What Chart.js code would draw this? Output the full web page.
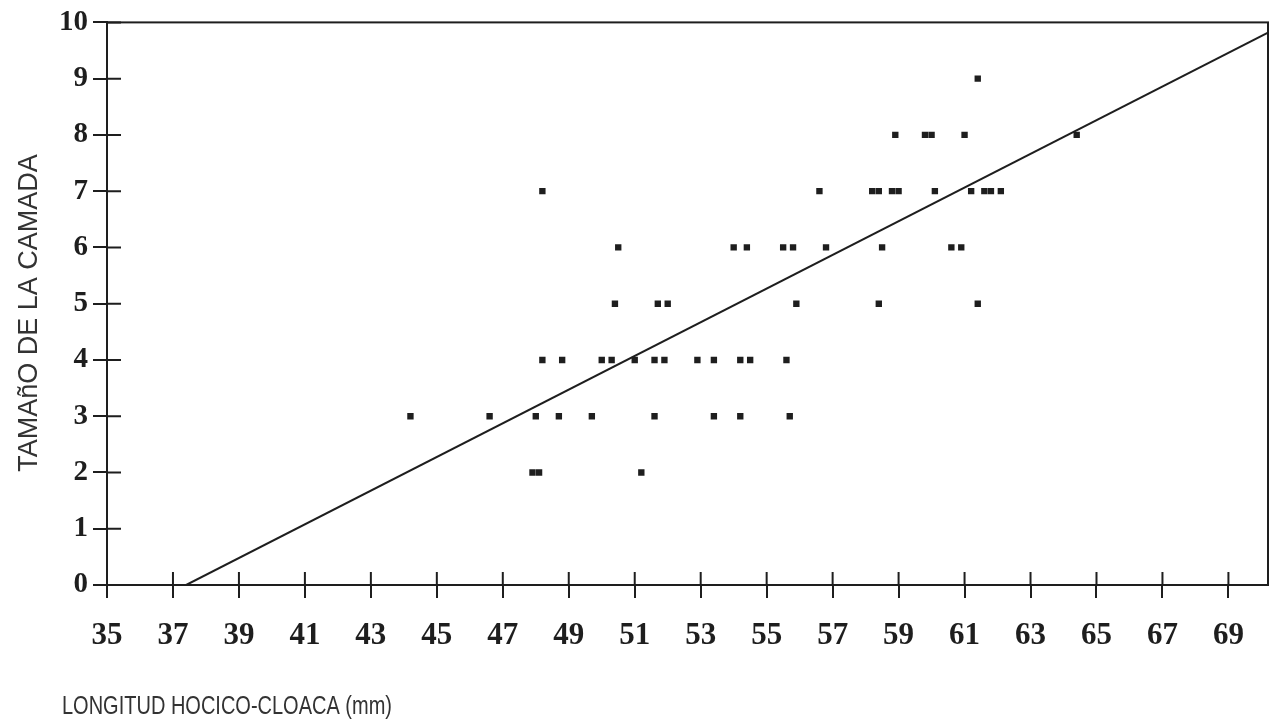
<!DOCTYPE html>
<html>
<head>
<meta charset="utf-8">
<script src="https://cdn.jsdelivr.net/npm/chart.js@4"></script>
<style>
  body { margin: 0; background: #fff; }
  canvas { display: block; }
</style>
</head>
<body>
<canvas id="chart" width="1274" height="727"></canvas>
<script>
const ink = '#1e1e1e';

// longitud hocico-cloaca (mm) y tamaño de la camada
const svl = [
  47.9, 48.1, 51.2,
  44.2, 46.6, 48.0, 48.7, 49.7, 51.6, 53.4, 54.2, 55.7,
  48.2, 48.8, 50.0, 50.3, 51.0, 51.6, 51.9, 52.9, 53.4, 54.2, 54.5, 55.6,
  50.4, 51.7, 52.0, 55.9, 58.4, 61.4,
  50.5, 54.0, 54.4, 55.5, 55.8, 56.8, 58.5, 60.6, 60.9,
  48.2, 56.6, 58.2, 58.4, 58.8, 59.0, 60.1, 61.2, 61.6, 61.8, 62.1,
  58.9, 59.8, 60.0, 61.0, 64.4,
  61.4
];
const litter = [
  2, 2, 2,
  3, 3, 3, 3, 3, 3, 3, 3, 3,
  4, 4, 4, 4, 4, 4, 4, 4, 4, 4, 4, 4,
  5, 5, 5, 5, 5, 5,
  6, 6, 6, 6, 6, 6, 6, 6, 6,
  7, 7, 7, 7, 7, 7, 7, 7, 7, 7, 7,
  8, 8, 8, 8, 8,
  9
];

// recta de regresión
const fitX = [37.4, 70.2];
const fitY = [0, 9.82];

const xTicks = [35, 37, 39, 41, 43, 45, 47, 49, 51, 53, 55, 57, 59, 61, 63, 65, 67, 69];
const yTicks = [0, 1, 2, 3, 4, 5, 6, 7, 8, 9, 10];

const xTitle = 'LONGITUD HOCICO-CLOACA (mm)';
const yTitle = 'TAMAñO DE LA CAMADA';

// marco superior/derecho, marcas hacia dentro y títulos de los ejes
const framePlugin = {
  id: 'frame',
  afterDraw(chart) {
    const { ctx, chartArea: a, scales } = chart;
    ctx.save();
    ctx.strokeStyle = ink;
    ctx.lineWidth = 2;
    ctx.strokeRect(a.left, a.top, a.right - a.left, a.bottom - a.top);
    ctx.beginPath();
    scales.x.ticks.forEach(t => {
      const px = scales.x.getPixelForValue(t.value);
      ctx.moveTo(px, a.bottom);
      ctx.lineTo(px, a.bottom - 13);
    });
    scales.y.ticks.forEach(t => {
      const py = scales.y.getPixelForValue(t.value);
      ctx.moveTo(a.left, py);
      ctx.lineTo(a.left + 14, py);
    });
    ctx.stroke();

    ctx.fillStyle = '#333';
    ctx.textBaseline = 'middle';

    // título eje x, algo estrecho como en el original
    ctx.save();
    ctx.font = '25px "Liberation Sans", Arial, sans-serif';
    ctx.translate(62, 707);
    ctx.scale(0.8, 1);
    ctx.fillText(xTitle, 0, 0);
    ctx.restore();

    // título eje y
    ctx.save();
    ctx.font = '27px "Liberation Sans", Arial, sans-serif';
    ctx.translate(30, 313);
    ctx.rotate(-Math.PI / 2);
    ctx.textAlign = 'center';
    ctx.fillText(yTitle, 0, 0);
    ctx.restore();

    ctx.restore();
  }
};

new Chart(document.getElementById('chart'), {
  type: 'scatter',
  data: {
    datasets: [
      {
        label: 'Hembras',
        data: svl.map((x, i) => ({ x: x, y: litter[i] })),
        pointStyle: 'rect',
        pointRadius: 4.5,
        backgroundColor: ink,
        borderColor: ink,
        borderWidth: 0
      },
      {
        label: 'Regresión',
        data: fitX.map((x, i) => ({ x: x, y: fitY[i] })),
        showLine: true,
        pointRadius: 0,
        borderColor: ink,
        borderWidth: 2,
        fill: false
      }
    ]
  },
  options: {
    responsive: false,
    animation: false,
    devicePixelRatio: 1,
    layout: { padding: { top: 21, right: 6, left: 0, bottom: 0 } },
    plugins: {
      legend: { display: false },
      tooltip: { enabled: false }
    },
    scales: {
      x: {
        type: 'linear',
        min: 35,
        max: 70.2,
        afterBuildTicks: s => { s.ticks = xTicks.map(v => ({ value: v })); },
        afterFit: s => { s.height = 142; },
        border: { display: true, color: ink, width: 2 },
        grid: { drawOnChartArea: false, drawTicks: true, tickLength: 13, color: ink, lineWidth: 2 },
        ticks: {
          padding: 19,
          color: ink,
          font: { family: '"Liberation Serif", "Times New Roman", serif', size: 31, weight: 'bold' }
        }
      },
      y: {
        min: 0,
        max: 10,
        afterBuildTicks: s => { s.ticks = yTicks.map(v => ({ value: v })); },
        afterFit: s => { s.width = 107; },
        border: { display: true, color: ink, width: 2 },
        grid: { drawOnChartArea: false, drawTicks: true, tickLength: 14, color: ink, lineWidth: 2 },
        ticks: {
          padding: 5,
          color: ink,
          font: { family: '"Liberation Serif", "Times New Roman", serif', size: 29, weight: 'bold' }
        }
      }
    }
  },
  plugins: [framePlugin]
});
</script>
</body>
</html>
